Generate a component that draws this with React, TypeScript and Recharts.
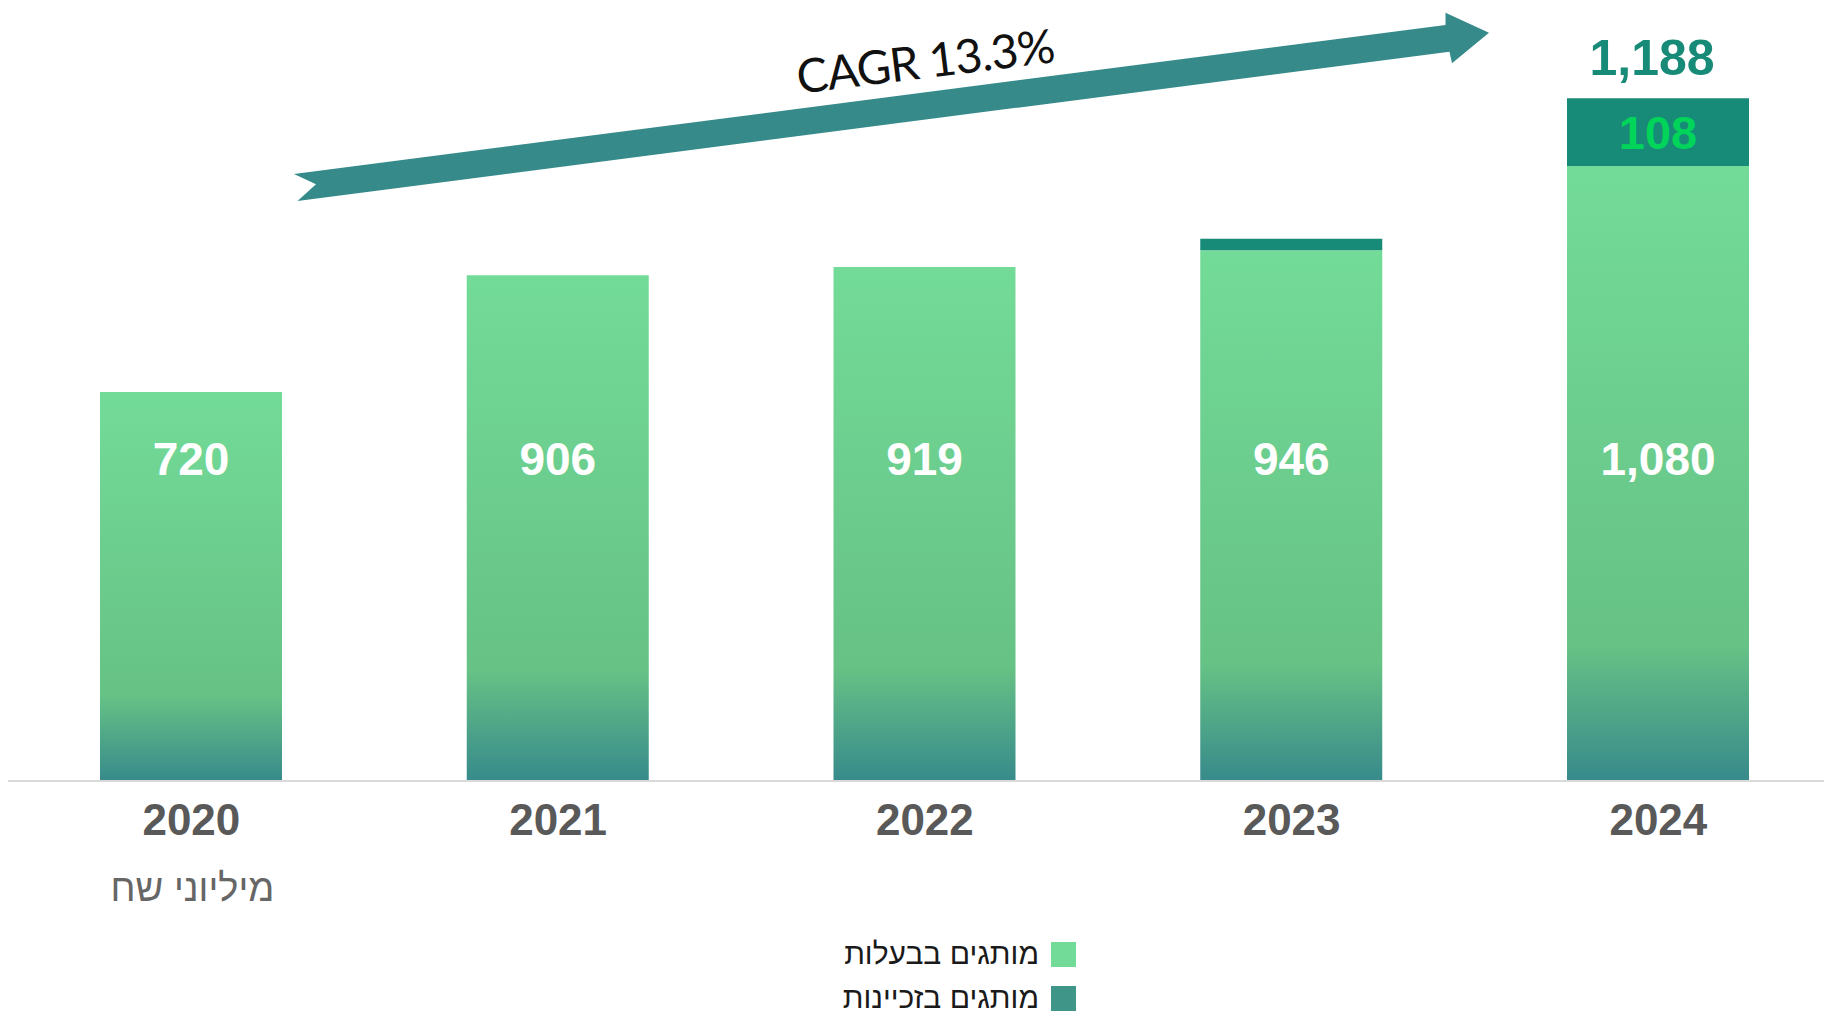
import { BarChart, Bar, XAxis, YAxis, LabelList } from 'recharts';

const YEARS = ['2020', '2021', '2022', '2023', '2024'];
const OWNED = [720, 906, 919, 946, 1080];
const FRANCHISE = [0, 0, 0, 18, 108];
const TOTAL_LABELS = ['', '', '', '', '1,188'];
const SERIES_NAMES = ['מותגים בבעלות', 'מותגים בזכיינות'];
const LEGEND_COLORS = ['#72db97', '#3f9688'];
const UNIT_LABEL = 'מיליוני שח';
const CAGR_LABEL = 'CAGR 13.3%';

const data = YEARS.map((year, i) => ({
  year,
  owned: OWNED[i],
  franchise: FRANCHISE[i],
  total: TOTAL_LABELS[i],
}));

const FONT = '"Liberation Sans", Arial, sans-serif';

const YearTick = (props: any) => {
  const { x, y, payload } = props;
  return (
    <text x={x} y={y + 30} textAnchor="middle" dominantBaseline="central"
      fill="#595959" fontSize={44} fontWeight={700} fontFamily={FONT}>
      {payload.value}
    </text>
  );
};

const OwnedLabel = (props: any) => {
  const { x, width, value } = props;
  return (
    <text x={Number(x) + Number(width) / 2} y={459} textAnchor="middle" dominantBaseline="central"
      fill="#ffffff" fontSize={46} fontWeight={700} fontFamily={FONT}>
      {Number(value).toLocaleString('en-US')}
    </text>
  );
};

const FranchiseLabel = (props: any) => {
  const { x, y, width, height, value } = props;
  if (Number(value) < 50) return null;
  return (
    <text x={Number(x) + Number(width) / 2} y={Number(y) + Number(height) / 2} textAnchor="middle"
      dominantBaseline="central" fill="#00d45a" fontSize={47} fontWeight={700} fontFamily={FONT}>
      {value}
    </text>
  );
};

const TotalLabel = (props: any) => {
  const { x, y, width, value } = props;
  if (!value) return null;
  return (
    <text x={Number(x) + Number(width) / 2 - 6} y={Number(y) - 40} textAnchor="middle"
      dominantBaseline="central" fill="#188a78" fontSize={50} fontWeight={700} fontFamily={FONT}>
      {value}
    </text>
  );
};

export default function App() {
  return (
    <div style={{ position: 'absolute', left: 0, top: 0, width: 1824, height: 1020, overflow: 'hidden', background: '#fff' }}>
      <BarChart width={1850} height={1020} data={data}
        margin={{ top: 90.75, right: 8.25, bottom: 179, left: 8 }}>
        <defs>
          <linearGradient id="ownedFill" x1="0" y1="0" x2="0" y2="1">
            <stop offset="0%" stopColor="#73db98" />
            <stop offset="78%" stopColor="#66c285" />
            <stop offset="100%" stopColor="#378a8b" />
          </linearGradient>
        </defs>
        <XAxis dataKey="year" axisLine={{ stroke: '#d9d9d9', strokeWidth: 2 }} tickLine={false}
          tick={<YearTick />} height={60} interval={0} />
        <YAxis hide domain={[100, 1200]} allowDataOverflow />
        <Bar dataKey="owned" stackId="a" fill="url(#ownedFill)" barSize={182} isAnimationActive={false}>
          <LabelList dataKey="owned" content={<OwnedLabel />} />
        </Bar>
        <Bar dataKey="franchise" stackId="a" fill="#188a78" barSize={182} isAnimationActive={false}>
          <LabelList dataKey="franchise" content={<FranchiseLabel />} />
          <LabelList dataKey="total" content={<TotalLabel />} />
        </Bar>
      </BarChart>

      <svg width={1824} height={1020} style={{ position: 'absolute', left: 0, top: 0, pointerEvents: 'none' }}>
        <polygon
          points="294,174 1445.5,25 1445.5,12.7 1489,32.7 1452,63.3 1449.5,51.7 297.5,201 316,184.3"
          fill="#368a8a" />
        <text x={925} y={60} textAnchor="middle" dominantBaseline="central" transform="rotate(-7 925 60)"
          fill="#111" fontSize={47} letterSpacing={-1} fontFamily="Lato, sans-serif">
          {CAGR_LABEL}
        </text>
      </svg>

      <div style={{ position: 'absolute', left: 60, top: 866, width: 265, textAlign: 'center', direction: 'rtl',
        fontFamily: FONT, fontSize: 38, fontWeight: 300, color: '#666', lineHeight: '44px' }}>
        {UNIT_LABEL}
      </div>

      {SERIES_NAMES.map((name, i) => (
        <div key={name} style={{ position: 'absolute', left: 700, top: 934 + i * 44, width: 376, height: 40,
          display: 'flex', alignItems: 'center', justifyContent: 'flex-end', gap: 12 }}>
          <span style={{ direction: 'rtl', fontFamily: FONT, fontSize: 30, color: '#1a1a1a', lineHeight: '36px' }}>{name}</span>
          <span style={{ width: 25, height: 25, background: LEGEND_COLORS[i], display: 'inline-block' }} />
        </div>
      ))}
    </div>
  );
}
